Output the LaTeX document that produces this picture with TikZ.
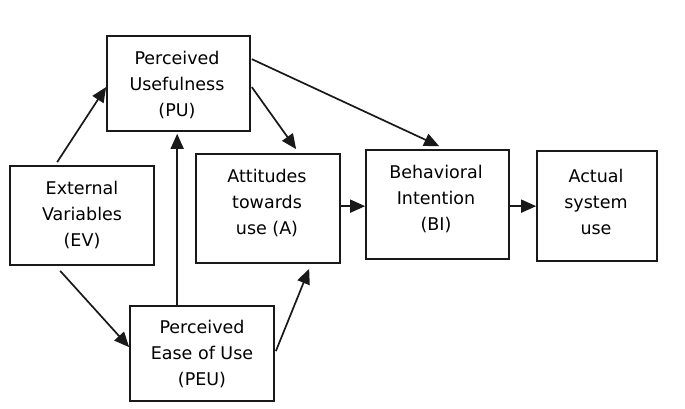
\documentclass[tikz,border=0pt]{standalone}
\usepackage{fontspec}
\setmainfont{DejaVu Sans}
\usetikzlibrary{calc,arrows.meta}
\begin{document}
\begin{tikzpicture}[x=1pt,y=-1pt,
  box/.style={draw=black!90,line width=1.7pt,rectangle,inner sep=0pt},
  txt/.style={align=center,inner sep=0pt,font=\fontsize{17.5}{26}\selectfont,text=black},
  link/.style={draw=black!90,line width=1.7pt,-{Triangle[length=15pt,width=13pt]}}]
\useasboundingbox (0,0) rectangle (685,409);
% boxes
\node[box,minimum width=143pt,minimum height=95pt]  (pu)  at (178.5,83.5) {};
\node[box,minimum width=144pt,minimum height=99pt]  (ev)  at (82,215.5)   {};
\node[box,minimum width=144pt,minimum height=109pt] (a)   at (268,208.5)  {};
\node[box,minimum width=143pt,minimum height=109pt] (bi)  at (437.5,204.5){};
\node[box,minimum width=120pt,minimum height=110pt] (act) at (597,206)    {};
\node[box,minimum width=144pt,minimum height=95pt]  (peu) at (202,353.5)  {};
% labels
\node[txt] (tpu)  at (177,85.5)  {Perceived\\Usefulness\\(PU)};
\node[txt] (tev)  at (82,215.5)  {External\\Variables\\(EV)};
\node[txt] (ta)   at (267,203.5) {Attitudes\\towards\\use (A)};
\node[txt] (tbi)  at (436,199.5) {Behavioral\\Intention\\(BI)};
\node[txt] (tact) at (596,201.5) {Actual\\system\\use};
\node[txt] (tpeu) at (202,354.5) {Perceived\\Ease of Use\\(PEU)};
% connectors
\draw[link] ($(ev.north west)+(48,-3)$) -- ($(pu.west)+(0,3.5)$);
\draw[link] ($(peu.north west)+(48,0)$) -- ($(pu.south west)+(71,2)$);
\draw[link] ($(pu.north east)+(1,52)$) -- ($(a.north west)+(101,-4)$);
\draw[link] ($(pu.north east)+(1,24)$) -- ($(bi.north west)+(74,-3)$);
\draw[link] ($(ev.south west)+(51,5)$) -- ($(peu.north west)+(0,42)$);
\draw[link] ($(peu.north east)+(1,46)$) -- ($(a.south west)+(114,5)$);
\draw[link] ($(a.north east)+(0,53)$) -- ($(bi.north west)+(0,57)$);
\draw[link] ($(bi.north east)+(0,57)$) -- ($(act.north west)+(0,56)$);
\end{tikzpicture}
\end{document}
